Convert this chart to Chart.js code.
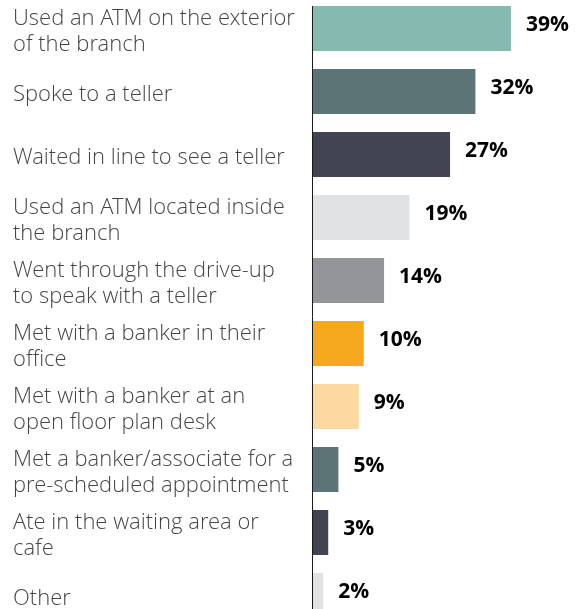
<!DOCTYPE html>
<html>
<head>
<meta charset="utf-8">
<script src="https://cdn.jsdelivr.net/npm/chart.js@4/dist/chart.umd.min.js"></script>
<style>
  html, body { margin: 0; padding: 0; background: #fff; overflow: hidden; }
  #wrap { position: absolute; left: 0; top: -3px; width: 582px; height: 630px; }
</style>
</head>
<body>
<div id="wrap"><canvas id="grafico"></canvas></div>
<script>
// categorias (quebradas em linhas) e valores em %
var rotulos = [
  ["Used an ATM on the exterior", "of the branch"],
  "Spoke to a teller",
  "Waited in line to see a teller",
  ["Used an ATM located inside", "the branch"],
  ["Went through the drive-up", "to speak with a teller"],
  ["Met with a banker in their", "office"],
  ["Met with a banker at an", "open floor plan desk"],
  ["Met a banker/associate for a", "pre-scheduled appointment"],
  ["Ate in the waiting area or", "cafe"],
  "Other"
];
var valores = [39, 32, 27, 19, 14, 10, 9, 5, 3, 2];
var cores = ["#86bab1", "#5c7475", "#424452", "#e1e2e4", "#939598",
             "#f6a81c", "#fdd8a0", "#5c7475", "#424452", "#e1e2e4"];

// Desenha a linha do eixo a partir do topo da primeira barra e os valores em negrito
var rotulosValor = {
  id: 'rotulosValor',
  afterDatasetsDraw: function(chart){
    var ctx = chart.ctx;
    var barras = chart.getDatasetMeta(0).data;
    var x0 = Math.round(chart.scales.x.getPixelForValue(0)) - 0.5;
    ctx.save();
    ctx.strokeStyle = "#1a1a1a";
    ctx.lineWidth = 1;
    ctx.beginPath();
    ctx.moveTo(x0, barras[0].y - barras[0].height / 2);
    ctx.lineTo(x0, chart.chartArea.bottom);
    ctx.stroke();

    ctx.fillStyle = "#000";
    ctx.font = "bold 21px 'Open Sans'";
    ctx.textBaseline = "middle";
    ctx.textAlign = "left";
    barras.forEach(function(b, i){
      ctx.fillText(valores[i] + "%", b.x + 15, b.y - 3);
    });
    ctx.restore();
  }
};

new Chart(document.getElementById("grafico"), {
  type: 'bar',
  data: {
    labels: rotulos,
    datasets: [{
      data: valores,
      backgroundColor: cores,
      borderWidth: 0,
      barPercentage: 0.714,
      categoryPercentage: 1
    }]
  },
  options: {
    indexAxis: 'y',
    responsive: true,
    maintainAspectRatio: false,
    animation: false,
    layout: { padding: { left: 13, right: 0, top: 0, bottom: 0 } },
    plugins: { legend: { display: false }, tooltip: { enabled: false } },
    scales: {
      x: { display: false, min: 0, max: 53 },
      y: {
        grid: { display: false, drawTicks: false },
        border: { display: false },
        afterFit: function(scale){
          // largura fixa da coluna de rótulos e sem folga em cima/embaixo
          scale.width = 300;
          scale.paddingTop = 0;
          scale.paddingBottom = 0;
        },
        ticks: {
          crossAlign: 'far',
          labelOffset: 4,
          color: "#444444",
          font: { family: "'Open Sans Light', 'Open Sans'", size: 22, weight: 300, lineHeight: 1.18 }
        }
      }
    }
  },
  plugins: [rotulosValor]
});
</script>
</body>
</html>
